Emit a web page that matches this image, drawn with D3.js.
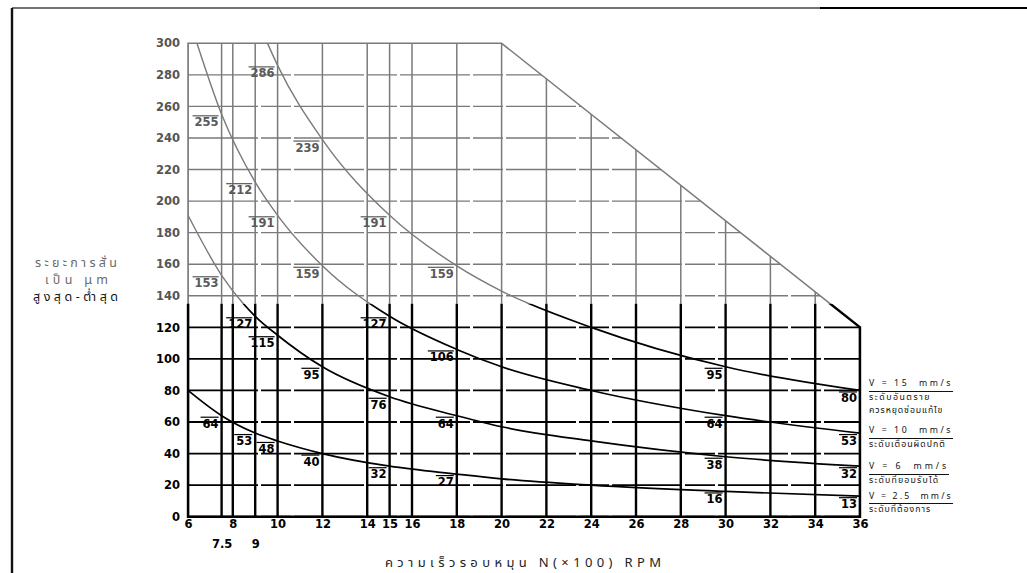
<!DOCTYPE html>
<html>
<head>
<meta charset="utf-8">
<script src="https://cdn.jsdelivr.net/npm/d3@7"></script>
<style>
  html, body { margin: 0; padding: 0; background: #fff; }
  body { position: relative; width: 1027px; height: 573px; overflow: hidden; }
  svg { display: block; }
  .num { font-family: "DejaVu Sans", sans-serif; font-weight: bold; font-size: 11.5px; }
  .thai { font-family: "Noto Sans Thai", "Noto Sans", "DejaVu Sans", sans-serif; }
  .legend { position: absolute; left: 869px; color: #111; font-size: 10.5px; }
  .legend div { height: 13.5px; line-height: 13.5px; white-space: pre; }
  .legend .head { display: inline-block; border-bottom: 1px solid #111; height: 12.5px; line-height: 12.5px; }
  .legend span { white-space: pre; }
</style>
</head>
<body>
<svg id="chart" width="1027" height="573"></svg>
<script>
// Speed axis (x 100 RPM) and displacement axis (µm peak-to-peak)
const rpmGrid = [6, 7.5, 8, 9, 10, 12, 14, 15, 16, 18, 20, 22, 24, 26, 28, 30, 32, 34, 36];
const rpmTicks = [6, 8, 10, 12, 14, 15, 16, 18, 20, 22, 24, 26, 28, 30, 32, 34, 36];
const rpmTicksLow = [7.5, 9];
const dispTicks = [0, 20, 40, 60, 80, 100, 120, 140, 160, 180, 200, 220, 240, 260, 280, 300];

// Outline of the chart area
const boundaryRpm = [6, 6, 20, 36, 36];
const boundaryDisp = [0, 300, 300, 120, 0];

// Constant-velocity curves (displacement in µm pk-pk at each speed)
const v15Rpm  = [9.55, 10, 12, 15, 18, 20, 24, 30, 36];
const v15Disp = [300, 286, 239, 191, 159, 143, 120, 95, 80];
const v10Rpm  = [6.4, 7.5, 9, 10, 12, 15, 18, 20, 24, 30, 36];
const v10Disp = [300, 255, 212, 191, 159, 127, 106, 95, 80, 64, 53];
const v6Rpm   = [6, 7.5, 9, 10, 12, 15, 18, 20, 24, 30, 36];
const v6Disp  = [191, 153, 127, 115, 95, 76, 64, 57, 48, 38, 32];
const v25Rpm  = [6, 7.5, 9, 10, 12, 15, 18, 20, 24, 30, 36];
const v25Disp = [80, 64, 53, 48, 40, 32, 27, 24, 20, 16, 13];

// Speeds at which the curve values are written on the chart
const v15Labelled = [10, 12, 15, 18, 30, 36];
const v10Labelled = [7.5, 9, 10, 12, 15, 18, 30, 36];
const v6Labelled  = [7.5, 9, 10, 12, 15, 18, 30, 36];
const v25Labelled = [7.5, 9, 10, 12, 15, 18, 30, 36];

// Legend text
const legendHeads = ["V = 15  mm/s", "V = 10  mm/s", "V = 6  mm/s", "V = 2.5  mm/s"];
const legendNotes = [
  ["ระดับอันตราย", "ควรหยุดซ่อมแก้ไข"],
  ["ระดับเตือนผิดปกติ"],
  ["ระดับที่ยอมรับได้"],
  ["ระดับที่ต้องการ"]
];
const yTitle = ["ระยะการสั่น", "เป็น μm", "สูงสุด-ต่ำสุด"];
const xTitle = "ความเร็วรอบหมุน N(×100) RPM";

const curves = [
  { rpm: v15Rpm, disp: v15Disp, lab: v15Labelled },
  { rpm: v10Rpm, disp: v10Disp, lab: v10Labelled },
  { rpm: v6Rpm,  disp: v6Disp,  lab: v6Labelled },
  { rpm: v25Rpm, disp: v25Disp, lab: v25Labelled }
];

const svg = d3.select("#chart");
const x = d3.scaleLinear().domain([6, 36]).range([188, 860]);
const y = d3.scaleLinear().domain([0, 300]).range([516.7, 43.3]);
const split = 135;           // print changes from black to grey above this level
const GREY = "#7a7a7a";

// page frame
svg.append("line").attr("x1", 12).attr("y1", 8).attr("x2", 1027).attr("y2", 8)
  .attr("stroke", "#444").attr("stroke-width", 1.4);
svg.append("line").attr("x1", 820).attr("y1", 8).attr("x2", 1027).attr("y2", 8)
  .attr("stroke", "#000").attr("stroke-width", 2);
svg.append("line").attr("x1", 12).attr("y1", 8).attr("x2", 12).attr("y2", 573)
  .attr("stroke", "#111").attr("stroke-width", 2.4);

const boundary = boundaryRpm.map((r, i) => [x(r), y(boundaryDisp[i])]);
const defs = svg.append("defs");
defs.append("clipPath").attr("id", "area")
  .append("polygon").attr("points", boundary.map(p => p.join(",")).join(" "));
defs.append("clipPath").attr("id", "lowerBand")
  .append("rect").attr("x", 0).attr("y", y(split)).attr("width", 1027).attr("height", 573 - y(split));
defs.append("clipPath").attr("id", "upperBand")
  .append("rect").attr("x", 0).attr("y", 0).attr("width", 1027).attr("height", y(split));

const line = d3.line().x(d => x(d[0])).y(d => y(d[1])).curve(d3.curveMonotoneX);

function drawBand(clipId, color, vW, hW, cW) {
  const band = svg.append("g").attr("clip-path", `url(#${clipId})`);
  const inner = band.append("g").attr("clip-path", "url(#area)");
  inner.selectAll("line.h").data(dispTicks).join("line")
    .attr("x1", x(6)).attr("x2", x(36))
    .attr("y1", d => y(d)).attr("y2", d => y(d))
    .attr("stroke", color).attr("stroke-width", hW)
    .attr("stroke-dasharray", "70,3,30,3");
  inner.selectAll("line.v").data(rpmGrid).join("line")
    .attr("x1", d => x(d)).attr("x2", d => x(d))
    .attr("y1", y(0)).attr("y2", y(300))
    .attr("stroke", color).attr("stroke-width", vW);
  band.append("path")
    .attr("d", d3.line()(boundary) + "Z")
    .attr("fill", "none").attr("stroke", color).attr("stroke-width", vW);
  curves.forEach(c => {
    band.append("path")
      .datum(c.rpm.map((r, i) => [r, c.disp[i]]))
      .attr("d", line)
      .attr("fill", "none").attr("stroke", color).attr("stroke-width", cW);
  });
}
drawBand("upperBand", GREY, 1.5, 1.4, 1.4);
drawBand("lowerBand", "#000", 2.4, 1.8, 1.7);

// value labels: number tucked under a short bar, left of the grid line
curves.forEach(c => {
  c.lab.forEach(r => {
    const v = c.disp[c.rpm.indexOf(r)];
    const col = v > split ? "#5a5a5a" : "#000";
    const px = x(r) - 3, py = y(v);
    const t = svg.append("text").attr("class", "num")
      .attr("x", px).attr("y", py + 12)
      .attr("text-anchor", "end").attr("fill", col).text(v);
    const w = t.node().getComputedTextLength();
    svg.append("line").attr("x1", px - w - 2).attr("x2", px)
      .attr("y1", py + 1.5).attr("y2", py + 1.5)
      .attr("stroke", col).attr("stroke-width", 1.2);
  });
});

// axes
const yAxis = svg.append("g").attr("transform", `translate(${x(6)},0)`)
  .call(d3.axisLeft(y).tickValues(dispTicks).tickSize(0).tickPadding(8));
yAxis.select(".domain").remove();
yAxis.selectAll("text").attr("class", "num")
  .attr("fill", d => d > split ? "#555" : "#000");

const xAxis = svg.append("g").attr("transform", `translate(0,${y(0)})`)
  .call(d3.axisBottom(x).tickValues(rpmTicks).tickSize(0).tickPadding(3).tickFormat(d3.format("d")));
xAxis.select(".domain").remove();
xAxis.selectAll("text").attr("class", "num").attr("fill", "#000");

const xAxis2 = svg.append("g").attr("transform", `translate(0,${y(0) + 20})`)
  .call(d3.axisBottom(x).tickValues(rpmTicksLow).tickSize(0).tickPadding(3).tickFormat(d => String(d)));
xAxis2.select(".domain").remove();
xAxis2.selectAll("text").attr("class", "num").attr("fill", "#000");

// axis titles
svg.append("text").attr("class", "thai")
  .attr("x", 385).attr("y", 567)
  .attr("textLength", 276).attr("lengthAdjust", "spacing")
  .attr("font-size", 13).attr("fill", "#222").text(xTitle);

const yTitleSpan = [[35, 82], [45, 63], [33, 85]];
yTitle.forEach((s, i) => {
  svg.append("text").attr("class", "thai")
    .attr("x", yTitleSpan[i][0]).attr("y", 267 + i * 17)
    .attr("textLength", yTitleSpan[i][1]).attr("lengthAdjust", "spacing")
    .attr("font-size", 12.5).attr("fill", i < 2 ? "#6a6a6a" : "#111").text(s);
});

// legend: underlined velocity heading followed by its notes
const legendTop = [377, 424, 460, 489.5];
const headWidth = [84, 84, 80, 84];
const noteWidth = [[65, 77], [81], [76], [66]];
const legendLines = [];
legendHeads.forEach((h, i) => {
  const block = d3.select("body").append("div")
    .attr("class", "legend thai").style("top", legendTop[i] + "px");
  legendLines.push({ el: block.append("div").append("span").attr("class", "head").text(h).node(), w: headWidth[i] });
  legendNotes[i].forEach((n, j) =>
    legendLines.push({ el: block.append("div").append("span").text(n).node(), w: noteWidth[i][j] }));
});

// shrink the legend type until every line's glyph box fits its 13.5px row
function rectOf(el) {
  const r = document.createRange();
  r.selectNodeContents(el);
  const rs = Array.from(r.getClientRects());
  return { h: d3.max(rs, b => b.height) || 0, w: d3.sum(rs, b => b.width) };
}
let fs = 10.5;
d3.selectAll(".legend").style("font-size", fs + "px");
while (fs > 7.5 && d3.max(legendLines, l => rectOf(l.el).h) > 13.4) {
  fs -= 0.25;
  d3.selectAll(".legend").style("font-size", fs + "px");
}
// then open up the letter spacing so each line keeps its printed width
legendLines.forEach(l => {
  const n = l.el.textContent.length;
  const extra = l.w - rectOf(l.el).w;
  if (extra > 0) d3.select(l.el).style("letter-spacing", (extra / n) + "px");
});
</script>
</body>
</html>
